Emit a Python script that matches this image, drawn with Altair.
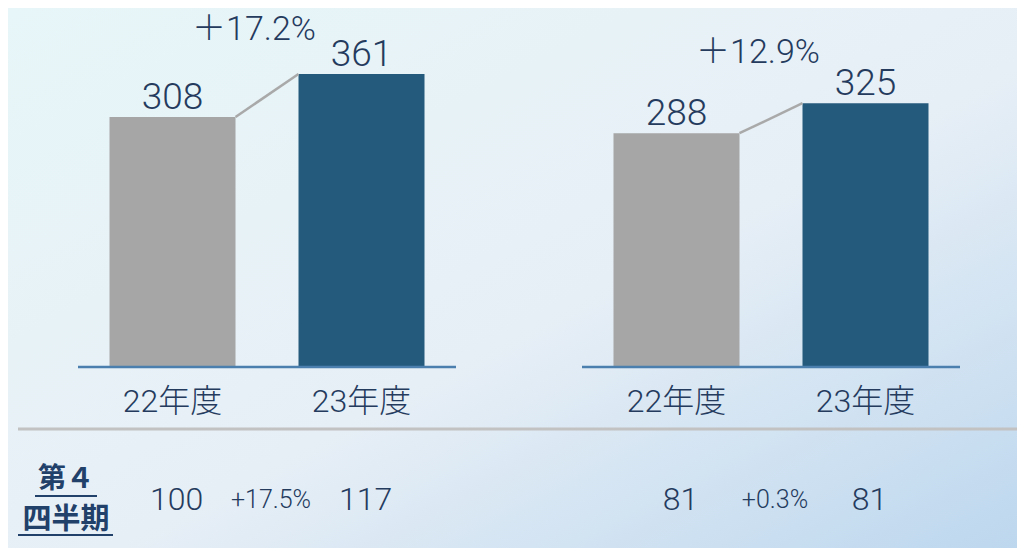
import altair as alt
import pandas as pd

# ---- data ----
panels = ["A", "B"]
years = ["22年度", "23年度"]
annual_22 = [308, 288]
annual_23 = [361, 325]
annual_growth = ["＋17.2%", "＋12.9%"]
q4_22 = [100, 81]
q4_23 = [117, 81]
q4_growth = ["+17.5%", "+0.3%"]
q4_label_1 = "第４"
q4_label_2 = "四半期"

rows = []
for i, p in enumerate(panels):
    rows.append({"panel": p, "year": years[0], "value": annual_22[i], "q4": q4_22[i]})
    rows.append({"panel": p, "year": years[1], "value": annual_23[i], "q4": q4_23[i]})
bars_df = pd.DataFrame(rows)

wide_df = pd.DataFrame({
    "panel": panels,
    "v22": annual_22,
    "v23": annual_23,
    "growth": annual_growth,
    "q4growth": q4_growth,
})
wide_df["mid"] = (wide_df["v22"] + wide_df["v23"]) / 2

# ---- styles ----
W, H = 1009, 540
GRAY = "#a6a6a6"
BLUE = "#245a7c"
NAVY = "#253b5e"
LABEL_NAVY = "#21406a"
FONT = "Roboto, 'Noto Sans CJK JP', sans-serif"

xscale = alt.Scale(paddingInner=0.25, paddingOuter=0.126, align=0.5512)
oscale = alt.Scale(paddingInner=1 / 3, paddingOuter=1 / 6)
yscale = alt.Scale(domain=[-223, 442.3], nice=False, zero=False)

X = alt.X("panel:N", scale=xscale, axis=None)
XO = alt.XOffset("year:N", scale=oscale)

base = alt.Chart(bars_df)
wide = alt.Chart(wide_df)
one = wide.transform_filter("datum.panel == 'A'")

bg = one.mark_rect(
    color=alt.LinearGradient(
        gradient="linear", x1=0, y1=0, x2=1, y2=1,
        stops=[
            alt.GradientStop(color="#e7f6f8", offset=0),
            alt.GradientStop(color="#e7eff6", offset=0.55),
            alt.GradientStop(color="#bdd7ee", offset=1),
        ],
    )
).encode(x=alt.value(0), x2=alt.value(W), y=alt.value(0), y2=alt.value(H))

bars = base.mark_bar().encode(
    x=X,
    xOffset=XO,
    y=alt.Y("value:Q", scale=yscale, axis=None),
    y2=alt.datum(0),
    color=alt.Color("year:N", scale=alt.Scale(domain=years, range=[GRAY, BLUE]), legend=None),
)

value_text = base.mark_text(
    font=FONT, fontSize=37, fontWeight=300, color=NAVY, baseline="alphabetic", dy=-8
).encode(
    x=X, xOffset=XO,
    y=alt.Y("value:Q", scale=yscale, axis=None),
    text="value:Q",
)

cat_text = base.mark_text(
    font=FONT, fontSize=32, fontWeight=300, color=NAVY, baseline="middle"
).encode(x=X, xOffset=XO, y=alt.value(394), text="year:N")

q4_text = base.mark_text(
    font=FONT, fontSize=32, fontWeight=300, color=NAVY, baseline="middle", dx=4
).encode(x=X, xOffset=XO, y=alt.value(492), text="q4:Q")

connector = wide.mark_rule(color="#a9a9a9", strokeWidth=2.5).encode(
    x=alt.X("panel:N", bandPosition=5 / 12, scale=xscale, axis=None),
    x2=alt.X2("panel", bandPosition=7 / 12),
    y=alt.Y("v22:Q", scale=yscale, axis=None),
    y2="v23:Q",
)

baseline = wide.transform_calculate(zero="0").mark_rule(color="#4a7fae", strokeWidth=2.5).encode(
    x=alt.X("panel:N", bandPosition=0, scale=xscale, axis=None),
    x2=alt.X2("panel", bandPosition=1),
    y=alt.Y("zero:Q", scale=yscale, axis=None),
)

growth_text = wide.mark_text(
    font=FONT, fontSize=34, fontWeight=300, color=NAVY, baseline="alphabetic", dy=-55, dx=-13
).encode(
    x=X,
    y=alt.Y("mid:Q", scale=yscale, axis=None),
    text="growth:N",
)

q4_growth_text = wide.mark_text(
    font=FONT, fontSize=25, fontWeight=300, color=NAVY, baseline="middle", dx=4
).encode(x=X, y=alt.value(492), text="q4growth:N")

separator = one.mark_rule(color="#c2c2c2", strokeWidth=3).encode(
    x=alt.value(10), x2=alt.value(W), y=alt.value(421)
)

q4_label_a = one.transform_calculate(lbl=f"'{q4_label_1}'").mark_text(
    font="'Noto Sans CJK JP', sans-serif", fontSize=28, fontWeight="bold", color=LABEL_NAVY,
    baseline="middle", align="center"
).encode(x=alt.value(58), y=alt.value(472), text="lbl:N")

q4_label_b = one.transform_calculate(lbl=f"'{q4_label_2}'").mark_text(
    font="'Noto Sans CJK JP', sans-serif", fontSize=29, fontWeight="bold", color=LABEL_NAVY,
    baseline="middle", align="center"
).encode(x=alt.value(58), y=alt.value(512), text="lbl:N")

underline1 = one.mark_rule(color=LABEL_NAVY, strokeWidth=2).encode(
    x=alt.value(27), x2=alt.value(89), y=alt.value(488)
)
underline2 = one.mark_rule(color=LABEL_NAVY, strokeWidth=2).encode(
    x=alt.value(10), x2=alt.value(105), y=alt.value(527)
)

chart = alt.layer(
    bg, separator, bars, baseline, connector, value_text, cat_text, growth_text,
    q4_text, q4_growth_text, q4_label_a, q4_label_b, underline1, underline2
).properties(
    width=W, height=H, autosize=alt.AutoSizeParams(type="none"), padding=0,
    background="#e4eff5",
).configure_view(stroke=None)

chart.save("out.html", embed_options={"renderer": "svg", "actions": False})
